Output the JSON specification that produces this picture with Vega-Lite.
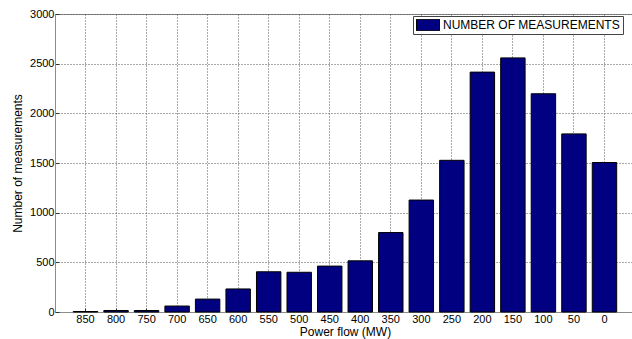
{
  "$schema": "https://vega.github.io/schema/vega-lite/v6.json",
  "width": 580,
  "height": 298,
  "autosize": {"type": "none"},
  "padding": {"left": 55, "top": 14, "right": 0, "bottom": 27},
  "background": "white",
  "config": {
    "font": "Liberation Sans",
    "view": {"stroke": "#8c8c8c", "strokeWidth": 1},
    "axis": {
      "labelFont": "Liberation Sans",
      "titleFont": "Liberation Sans",
      "labelFontSize": 11,
      "labelColor": "#000000",
      "titleFontSize": 12,
      "titleFontWeight": "normal",
      "titleColor": "#000000",
      "domainColor": "#8c8c8c",
      "grid": true,
      "gridColor": "#555555",
      "gridDash": [1, 2],
      "gridWidth": 1,
      "gridOpacity": 1,
      "tickColor": "#333333",
      "tickSize": -4
    }
  },
  "data": {
    "values": [
      {"flow": "850", "count": 5},
      {"flow": "800", "count": 15},
      {"flow": "750", "count": 15},
      {"flow": "700", "count": 60},
      {"flow": "650", "count": 130},
      {"flow": "600", "count": 232},
      {"flow": "550", "count": 405},
      {"flow": "500", "count": 400},
      {"flow": "450", "count": 462},
      {"flow": "400", "count": 515},
      {"flow": "350", "count": 800},
      {"flow": "300", "count": 1127},
      {"flow": "250", "count": 1527},
      {"flow": "200", "count": 2415},
      {"flow": "150", "count": 2558},
      {"flow": "100", "count": 2197},
      {"flow": "50", "count": 1793},
      {"flow": "0", "count": 1505}
    ]
  },
  "mark": {"type": "bar", "stroke": "#000000", "strokeWidth": 1},
  "encoding": {
    "x": {
      "field": "flow",
      "type": "ordinal",
      "sort": null,
      "scale": {"paddingInner": 0.2, "paddingOuter": 0.6},
      "axis": {
        "title": "Power flow (MW)",
        "labelAngle": 0,
        "bandPosition": 0.5,
        "labelPadding": 5,
        "titlePadding": 2
      }
    },
    "y": {
      "field": "count",
      "type": "quantitative",
      "scale": {"domain": [0, 3000], "nice": false},
      "axis": {
        "title": "Number of measurements",
        "values": [0, 500, 1000, 1500, 2000, 2500, 3000],
        "format": "d",
        "labelPadding": 5,
        "titlePadding": 5
      }
    },
    "color": {
      "datum": "NUMBER OF MEASUREMENTS",
      "scale": {"range": ["#000080"]},
      "legend": {
        "title": null,
        "orient": "none",
        "legendX": 358,
        "legendY": 2,
        "padding": 3,
        "fillColor": "#ffffff",
        "strokeColor": "#444444",
        "cornerRadius": 0,
        "symbolType": "M-1,-0.5H1V0.5H-1Z",
        "symbolSize": 529,
        "symbolStrokeColor": "#000000",
        "symbolStrokeWidth": 1,
        "symbolOpacity": 1,
        "clipHeight": 12,
        "labelFont": "Liberation Sans",
        "labelFontSize": 12,
        "labelLimit": 400,
        "labelColor": "#000000",
        "labelOffset": 3
      }
    }
  }
}
